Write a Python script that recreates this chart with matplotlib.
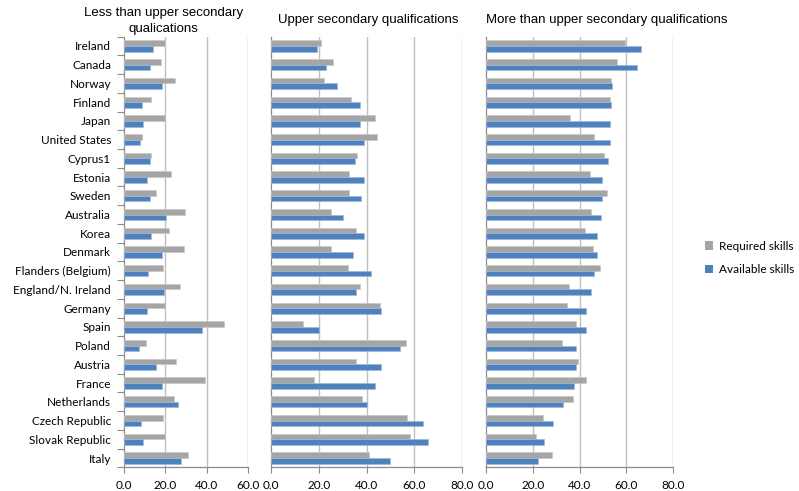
import matplotlib
matplotlib.use("Agg")
import matplotlib.pyplot as plt
import numpy as np
from matplotlib.patches import Patch

countries = ["Ireland", "Canada", "Norway", "Finland", "Japan", "United States",
             "Cyprus1", "Estonia", "Sweden", "Australia", "Korea", "Denmark",
             "Flanders (Belgium)", "England/N. Ireland", "Germany", "Spain",
             "Poland", "Austria", "France", "Netherlands", "Czech Republic",
             "Slovak Republic", "Italy"]

# Less than upper secondary qualifications
low_required = [20.0, 17.8, 24.6, 13.0, 20.0, 9.1, 13.4, 22.7, 15.4, 29.6, 21.8,
                29.0, 18.9, 27.2, 19.8, 48.5, 10.9, 25.1, 39.0, 24.5, 18.9, 19.8, 30.9]
low_available = [14.4, 12.5, 18.4, 9.1, 9.6, 8.0, 12.5, 11.4, 12.5, 20.6, 13.4,
                 18.4, 12.0, 19.4, 11.4, 37.8, 7.5, 15.4, 18.4, 26.1, 8.2, 9.6, 27.5]

# Upper secondary qualifications
mid_required = [20.7, 25.7, 22.0, 33.4, 43.6, 44.5, 35.9, 32.6, 32.6, 24.9, 35.7,
                24.9, 32.2, 37.2, 45.7, 13.4, 56.4, 35.5, 18.0, 38.2, 56.8, 58.0, 41.1]
mid_available = [19.0, 22.8, 27.6, 37.3, 37.2, 39.0, 35.1, 39.0, 37.8, 29.9, 39.0,
                 34.3, 42.0, 35.5, 46.2, 20.0, 53.8, 45.9, 43.6, 40.1, 63.6, 65.7, 49.9]

# More than upper secondary qualifications
high_required = [59.4, 56.3, 53.7, 53.3, 36.0, 46.3, 50.6, 44.6, 52.0, 45.0, 42.4,
                 46.0, 48.9, 35.6, 34.8, 38.3, 32.6, 39.4, 43.0, 37.3, 24.4, 21.4, 28.4]
high_available = [66.6, 64.6, 54.1, 53.7, 53.3, 53.3, 52.4, 49.7, 49.7, 49.3, 47.6,
                  47.7, 46.2, 45.1, 42.6, 42.6, 38.6, 38.6, 37.7, 33.0, 28.6, 24.7, 22.3]

panel_titles = ["Less than upper secondary\nqualications",
                "Upper secondary qualifications",
                "More than upper secondary qualifications"]
x_limits = [60, 80, 80]
series_names = ["Required skills", "Available skills"]

GRAY = "#a5a5a5"
BLUE = "#4f81bd"
GRID = "#c0c0c0"
SPINE = "#8c8c8c"
LABEL_FONT = ["Lato", "DejaVu Sans"]
TITLE_FONT = ["Liberation Sans", "DejaVu Sans"]

W, H = 799, 491
fig = plt.figure(figsize=(W / 100, H / 100), dpi=100)

top_px, bot_px = 36.6, 467.4
panels_px = [(123.5, 248.3), (271.3, 462.0), (486.3, 672.7)]
data = [(low_required, low_available), (mid_required, mid_available),
        (high_required, high_available)]

y = np.arange(len(countries))
bh = 0.30

axes = []
for i, ((x0, x1), (req, avl), xmax) in enumerate(zip(panels_px, data, x_limits)):
    ax = fig.add_axes([x0 / W, 1 - bot_px / H, (x1 - x0) / W, (bot_px - top_px) / H])
    axes.append(ax)
    ax.barh(y - bh / 2, req, height=bh, color=GRAY, edgecolor="#c8c8c8",
            linewidth=0.5, zorder=3)
    ax.barh(y + bh / 2, avl, height=bh, color=BLUE, edgecolor="#9db8dc",
            linewidth=0.5, zorder=3)
    ax.set_xlim(0, xmax)
    ax.set_ylim(len(countries) - 0.5, -0.5)
    ticks = np.arange(0, xmax + 1, 20)
    ax.set_xticks(ticks)
    ax.set_xticklabels([f"{t:.1f}" for t in ticks], fontsize=8.5, family=LABEL_FONT)
    for t in ticks[1:]:
        ax.axvline(t, color=GRID, linewidth=1.0, zorder=1)
    for s in ["top", "right"]:
        ax.spines[s].set_visible(False)
    for s in ["left", "bottom"]:
        ax.spines[s].set_color(SPINE)
        ax.spines[s].set_linewidth(0.9)
    ax.tick_params(axis="x", length=4, width=0.8, color=SPINE, pad=5)
    if i == 0:
        ax.set_yticks(y)
        ax.set_yticklabels(countries, fontsize=8.5, family=LABEL_FONT)
        ax.set_yticks(np.arange(-0.5, len(countries)), minor=True)
        ax.tick_params(axis="y", which="major", length=0, pad=9)
        ax.tick_params(axis="y", which="minor", length=5, width=0.8, color=SPINE)
    else:
        ax.set_yticks([])

# panel titles
fig.text(163.5 / W, 1 - 21 / H, panel_titles[0], ha="center", va="center",
         fontsize=9.5, family=TITLE_FONT, linespacing=1.45)
fig.text(368 / W, 1 - 20 / H, panel_titles[1], ha="center", va="center",
         fontsize=9.5, family=TITLE_FONT)
fig.text(606.5 / W, 1 - 20 / H, panel_titles[2], ha="center", va="center",
         fontsize=9.5, family=TITLE_FONT)

handles = [Patch(facecolor=GRAY, edgecolor="none"),
           Patch(facecolor=BLUE, edgecolor="none")]
fig.legend(handles, series_names, loc="center left",
           bbox_to_anchor=(700 / W, 1 - 258 / H), frameon=False,
           prop={"family": LABEL_FONT, "size": 8.5},
           handlelength=0.7, handleheight=0.7, handletextpad=0.5,
           labelspacing=1.1, borderaxespad=0)

fig.savefig("out.png", dpi=100)
